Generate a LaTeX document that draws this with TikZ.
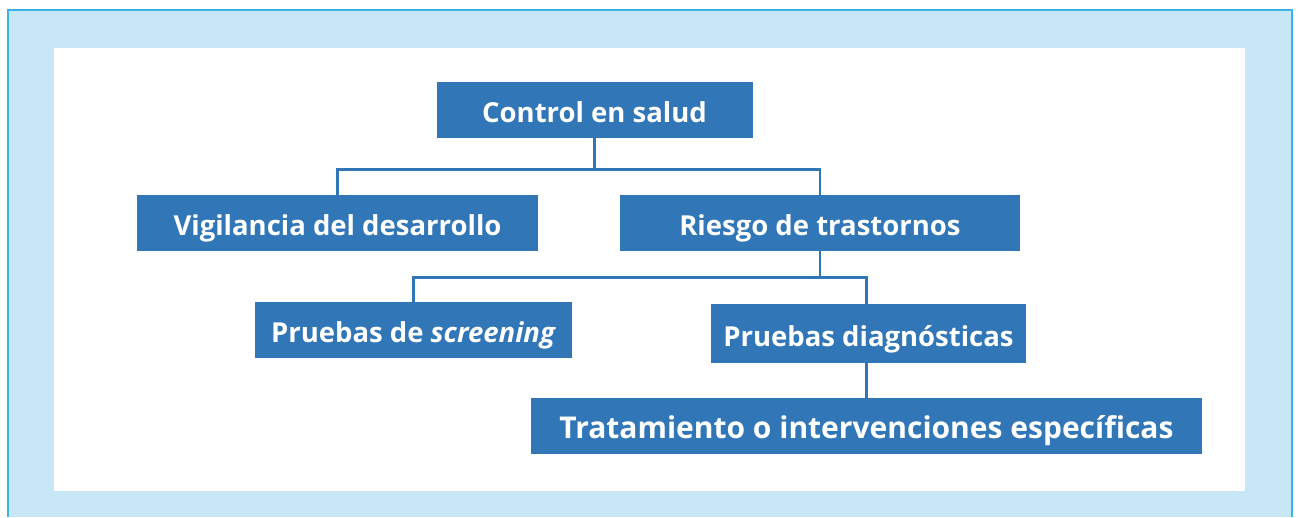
\documentclass[tikz,border=0pt]{standalone}
\usepackage{fontspec}
\setmainfont{Open Sans}
\usepackage{tikz}
\usetikzlibrary{positioning}
\definecolor{boxblue}{RGB}{49,118,183}
\definecolor{framefill}{RGB}{199,231,247}
\definecolor{frameline}{RGB}{59,180,229}
\tikzset{
    %Define style for boxes
    item/.style={
           rectangle,
           fill=boxblue,
           text=white,
           inner sep=0pt,
           minimum height=56pt,
           text height=25pt,
           text depth=0pt,
           font=\bfseries\fontsize{27.5}{32}\selectfont,
           text centered,
           },
    % Define connector style
    conn/.style={
           draw=boxblue,
           line width=2.6pt,
           }
}
\begin{document}
\begin{tikzpicture}[x=1pt,y=-1pt]
\useasboundingbox (0,0) rectangle (1298,517);
% frame
\fill[framefill] (8,10) rectangle (1292,517);
\draw[frameline,line width=2.5pt] (8,517) -- (8,10) -- (1292,10) -- (1292,517);
\fill[white] (54,48) rectangle (1245,491);
% boxes
\node[item,minimum width=316pt](control) at (594.5,110){Control en salud};
\node[item,minimum width=401pt](vig) at (337.5,223){Vigilancia del desarrollo};
\node[item,minimum width=400pt](riesgo) at (820,223){Riesgo de trastornos};
\node[item,minimum width=317pt](screen) at (413.5,330){Pruebas de \textit{screening}};
\node[item,minimum width=315pt,minimum height=59pt](diag) at (868.5,333.5){Pruebas diagnósticas};
\node[item,minimum width=671pt,font=\bfseries\fontsize{30}{35}\selectfont](trat) at (866.5,426){Tratamiento o intervenciones específicas};
% connectors
\draw[conn] (control.south) -- ++(0,31) -| (vig.north);
\draw[conn] (control.south) -- ++(0,31) -| (riesgo.north);
\draw[conn] (riesgo.south) -- ++(0,26) -| (screen.north);
\draw[conn] (riesgo.south) -- ++(0,26) -| (trat.north |- diag.north);
\draw[conn] (trat.north |- diag.south) -- (trat.north);
\end{tikzpicture}
\end{document}
